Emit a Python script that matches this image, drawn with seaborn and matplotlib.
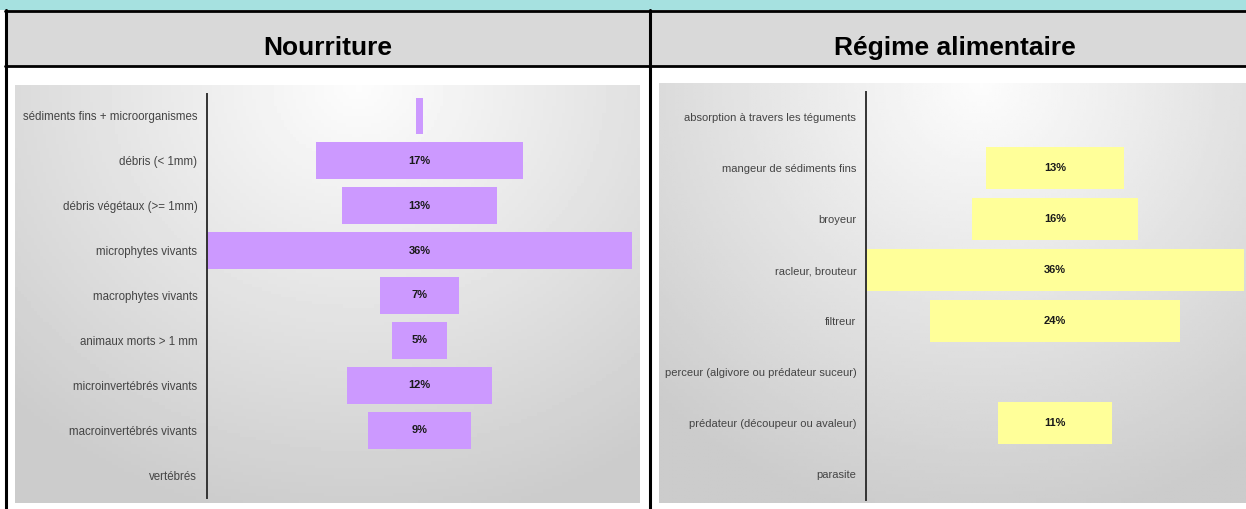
import numpy as np
import pandas as pd
import seaborn as sns
import matplotlib.pyplot as plt
from matplotlib.patches import Rectangle

# values
food = ["sédiments fins + microorganismes", "débris (< 1mm)",
        "débris végétaux (>= 1mm)", "microphytes vivants",
        "macrophytes vivants", "animaux morts > 1 mm",
        "microinvertébrés vivants", "macroinvertébrés vivants", "vertébrés"]
food_pct = [0.6, 17.5, 13.2, 36, 6.7, 4.6, 12.3, 8.7, 0]
food_lbl = ["", "17%", "13%", "36%", "7%", "5%", "12%", "9%", ""]

diet = ["absorption à travers les téguments", "mangeur de sédiments fins",
        "broyeur", "racleur, brouteur", "filtreur",
        "perceur (algivore ou prédateur suceur)",
        "prédateur (découpeur ou avaleur)", "parasite"]
diet_pct = [0, 13.2, 15.8, 36, 23.9, 0, 10.9, 0]
diet_lbl = ["", "13%", "16%", "36%", "24%", "", "11%", ""]

titles = ["Nourriture", "Régime alimentaire"]

sns.set_style("white")
plt.rcParams['font.family'] = ['Liberation Sans', 'DejaVu Sans']

W, H = 1246, 509
fig = plt.figure(figsize=(W / 100, H / 100), dpi=100)
fig.patch.set_facecolor("white")


def px_axes(x0, y0, x1, y1):
  return fig.add_axes([x0 / W, 1 - y1 / H, (x1 - x0) / W, (y1 - y0) / H])


def fx(x):
  return x / W


def fy(y):
  return 1 - y / H


# table frame: teal band, grey header row, black rules
fig.add_artist(Rectangle((0, fy(10)), 1, 10 / H, transform=fig.transFigure,
                         color="#a6e1e0", lw=0))
fig.add_artist(Rectangle((fx(6), fy(66)), 1, 56 / H, transform=fig.transFigure,
                         color="#d9d9d9", lw=0))
for y in [10.5, 66]:
  fig.add_artist(plt.Line2D([fx(5), 1], [fy(y), fy(y)], color="black", lw=2))
for x in [6, 650]:
  fig.add_artist(plt.Line2D([fx(x), fx(x)], [fy(10), 0], color="black", lw=2.2))

fig.text(fx(328), fy(55), titles[0], ha="center", va="baseline",
         fontsize=19, fontweight="bold", color="black")
fig.text(fx(955), fy(55), titles[1], ha="center", va="baseline",
         fontsize=19, fontweight="bold", color="black")


def background(x0, y0, x1, y1):
  bg = px_axes(x0, y0, x1, y1)
  xx, yy = np.meshgrid(np.linspace(0, 1, 200), np.linspace(0, 1, 120))
  r = np.sqrt(((xx - 0.55) * 1.2) ** 2 + (yy * 0.9) ** 2)
  img = np.clip(0.99 - 0.2 * r, 0.80, 0.99)
  bg.imshow(img, cmap="gray", vmin=0, vmax=1, aspect="auto",
            extent=[0, 1, 1, 0])
  bg.set_axis_off()
  return bg


def funnel(box, cats, pct, lbl, color, size):
  ax = px_axes(*box)
  df = pd.DataFrame({"cat": cats, "pct": pct})
  sns.barplot(data=df, x="pct", y="cat", orient="h", color=color,
              width=0.82, saturation=1, linewidth=0, ax=ax)
  # centre each bar on zero to get the funnel look
  for p in ax.patches:
    p.set_x(-p.get_width() / 2)
  for i, t in enumerate(lbl):
    if t:
      ax.text(0, i, t, ha="center", va="center", fontsize=8,
              fontweight="bold", color="#1a1a1a")
  ax.set_xlim(-18, 18)
  ax.set_ylim(len(cats) - 0.5, -0.5)
  ax.set_facecolor("none")
  ax.set_xlabel("")
  ax.set_ylabel("")
  ax.set_xticks([])
  ax.tick_params(axis="y", length=0, pad=7, labelsize=size, labelcolor="#444444")
  for s in ["top", "right", "bottom"]:
    ax.spines[s].set_visible(False)
  ax.spines["left"].set_color("#333333")
  ax.spines["left"].set_linewidth(1.4)
  return ax


background(15, 85, 640, 503)
background(659, 83, 1246, 503)
funnel((207, 93.5, 632, 497.5), food, food_pct, food_lbl, "#cc99ff", 8.3)
funnel((866, 91.5, 1244, 499.5), diet, diet_pct, diet_lbl, "#ffff99", 8.0)

plt.savefig("out.png", dpi=100)
